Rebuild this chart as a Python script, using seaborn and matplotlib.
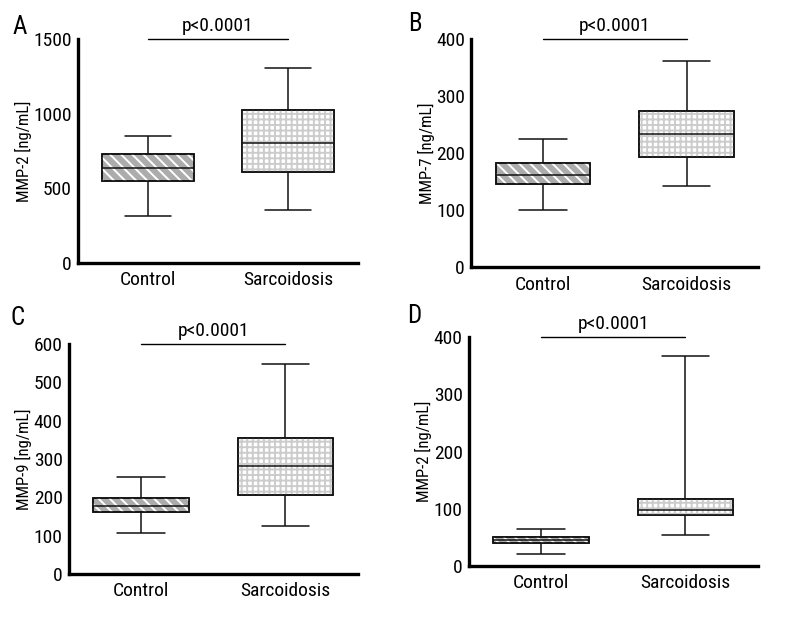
import numpy as np
import pandas as pd
import matplotlib
matplotlib.use("Agg")
import matplotlib.pyplot as plt
import seaborn as sns
from matplotlib.patches import PathPatch

groups = ["Control", "Sarcoidosis"]

# five-number summaries: min, Q1, median, Q3, max
mmp2_control = [312, 548, 635, 733, 853]
mmp2_sarc = [352, 606, 802, 1023, 1308]
mmp7_control = [100, 146, 162, 182, 225]
mmp7_sarc = [143, 194, 234, 274, 362]
mmp9_control = [106, 161, 178, 199, 254]
mmp9_sarc = [125, 207, 282, 355, 548]
mmp2b_control = [21, 40, 46, 51, 64]
mmp2b_sarc = [54, 89, 98, 118, 367]

panels = ["A", "B", "C", "D"]
ylabels = ["MMP-2 [ng/mL]", "MMP-7 [ng/mL]", "MMP-9 [ng/mL]", "MMP-2 [ng/mL]"]
ymax = [1500, 400, 600, 400]
ystep = [500, 100, 100, 100]
pvalue = "p<0.0001"

series = [
    (mmp2_control, mmp2_sarc),
    (mmp7_control, mmp7_sarc),
    (mmp9_control, mmp9_sarc),
    (mmp2b_control, mmp2b_sarc),
]

sns.set_style("white")
plt.rcParams['font.family'] = ['Roboto Condensed', 'Liberation Sans Narrow', 'Roboto', 'DejaVu Sans']
plt.rcParams['font.stretch'] = 'condensed'
plt.rcParams['text.color'] = 'black'
plt.rcParams['hatch.linewidth'] = 1.4

fig = plt.figure(figsize=(8, 6.2), dpi=100)

rects = [
    [0.0975, 0.576, 0.350, 0.361],
    [0.589, 0.569, 0.359, 0.368],
    [0.086, 0.074, 0.361, 0.371],
    [0.586, 0.087, 0.361, 0.369],
]
letter_pos = [(0.016, 0.957), (0.510, 0.961), (0.013, 0.487), (0.509, 0.490)]

for i in range(4):
    ax = fig.add_axes(rects[i])
    ctrl, sarc = series[i]
    df = pd.DataFrame({"group": np.repeat(groups, 5), "value": ctrl + sarc})
    sns.boxplot(data=df, x="group", y="value", order=groups, whis=(0, 100),
                width=0.66, color="#b3b3b3", linecolor="#111111", linewidth=1.1,
                saturation=1, fliersize=0, ax=ax)

    # hatch fills: diagonal stripes for control, fine grid for sarcoidosis
    boxes = list(ax.patches)
    styles = [("#acacac", "white", "\\\\\\"), ("white", "#cccccc", "+++")]
    for p, (face, hcol, hatch) in zip(boxes, styles):
        p.set_facecolor(face)
        z = p.get_zorder()
        ax.add_patch(PathPatch(p.get_path(), transform=p.get_transform(),
                               facecolor="none", edgecolor=hcol, hatch=hatch,
                               lw=0, zorder=z + 0.03))
        ax.add_patch(PathPatch(p.get_path(), transform=p.get_transform(),
                               facecolor="none", edgecolor="#111111", lw=1.2,
                               zorder=z + 0.05))

    ax.set_xlim(-0.5, 1.5)
    ax.set_ylim(0, ymax[i])
    ax.set_yticks(np.arange(0, ymax[i] + 1, ystep[i]))
    ax.set_xlabel("")
    ax.set_ylabel(ylabels[i], fontsize=12, labelpad=1, color="black")
    sns.despine(ax=ax)
    for s in ["left", "bottom"]:
        ax.spines[s].set_linewidth(2.4)
        ax.spines[s].set_color("black")
    ax.tick_params(axis="y", length=3.5, width=2, labelsize=14, colors="black", pad=1)
    ax.tick_params(axis="x", length=0, labelsize=14, colors="black", pad=6)

    ax.plot([0, 1], [ymax[i], ymax[i]], color="black", lw=1, clip_on=False)
    ax.annotate(pvalue, xy=(0.5, ymax[i]), xytext=(0, 3), textcoords="offset points",
                ha="center", va="bottom", fontsize=14, annotation_clip=False)

    fig.text(letter_pos[i][0], letter_pos[i][1], panels[i], fontsize=18, va="center")

plt.savefig("out.png", dpi=100)
